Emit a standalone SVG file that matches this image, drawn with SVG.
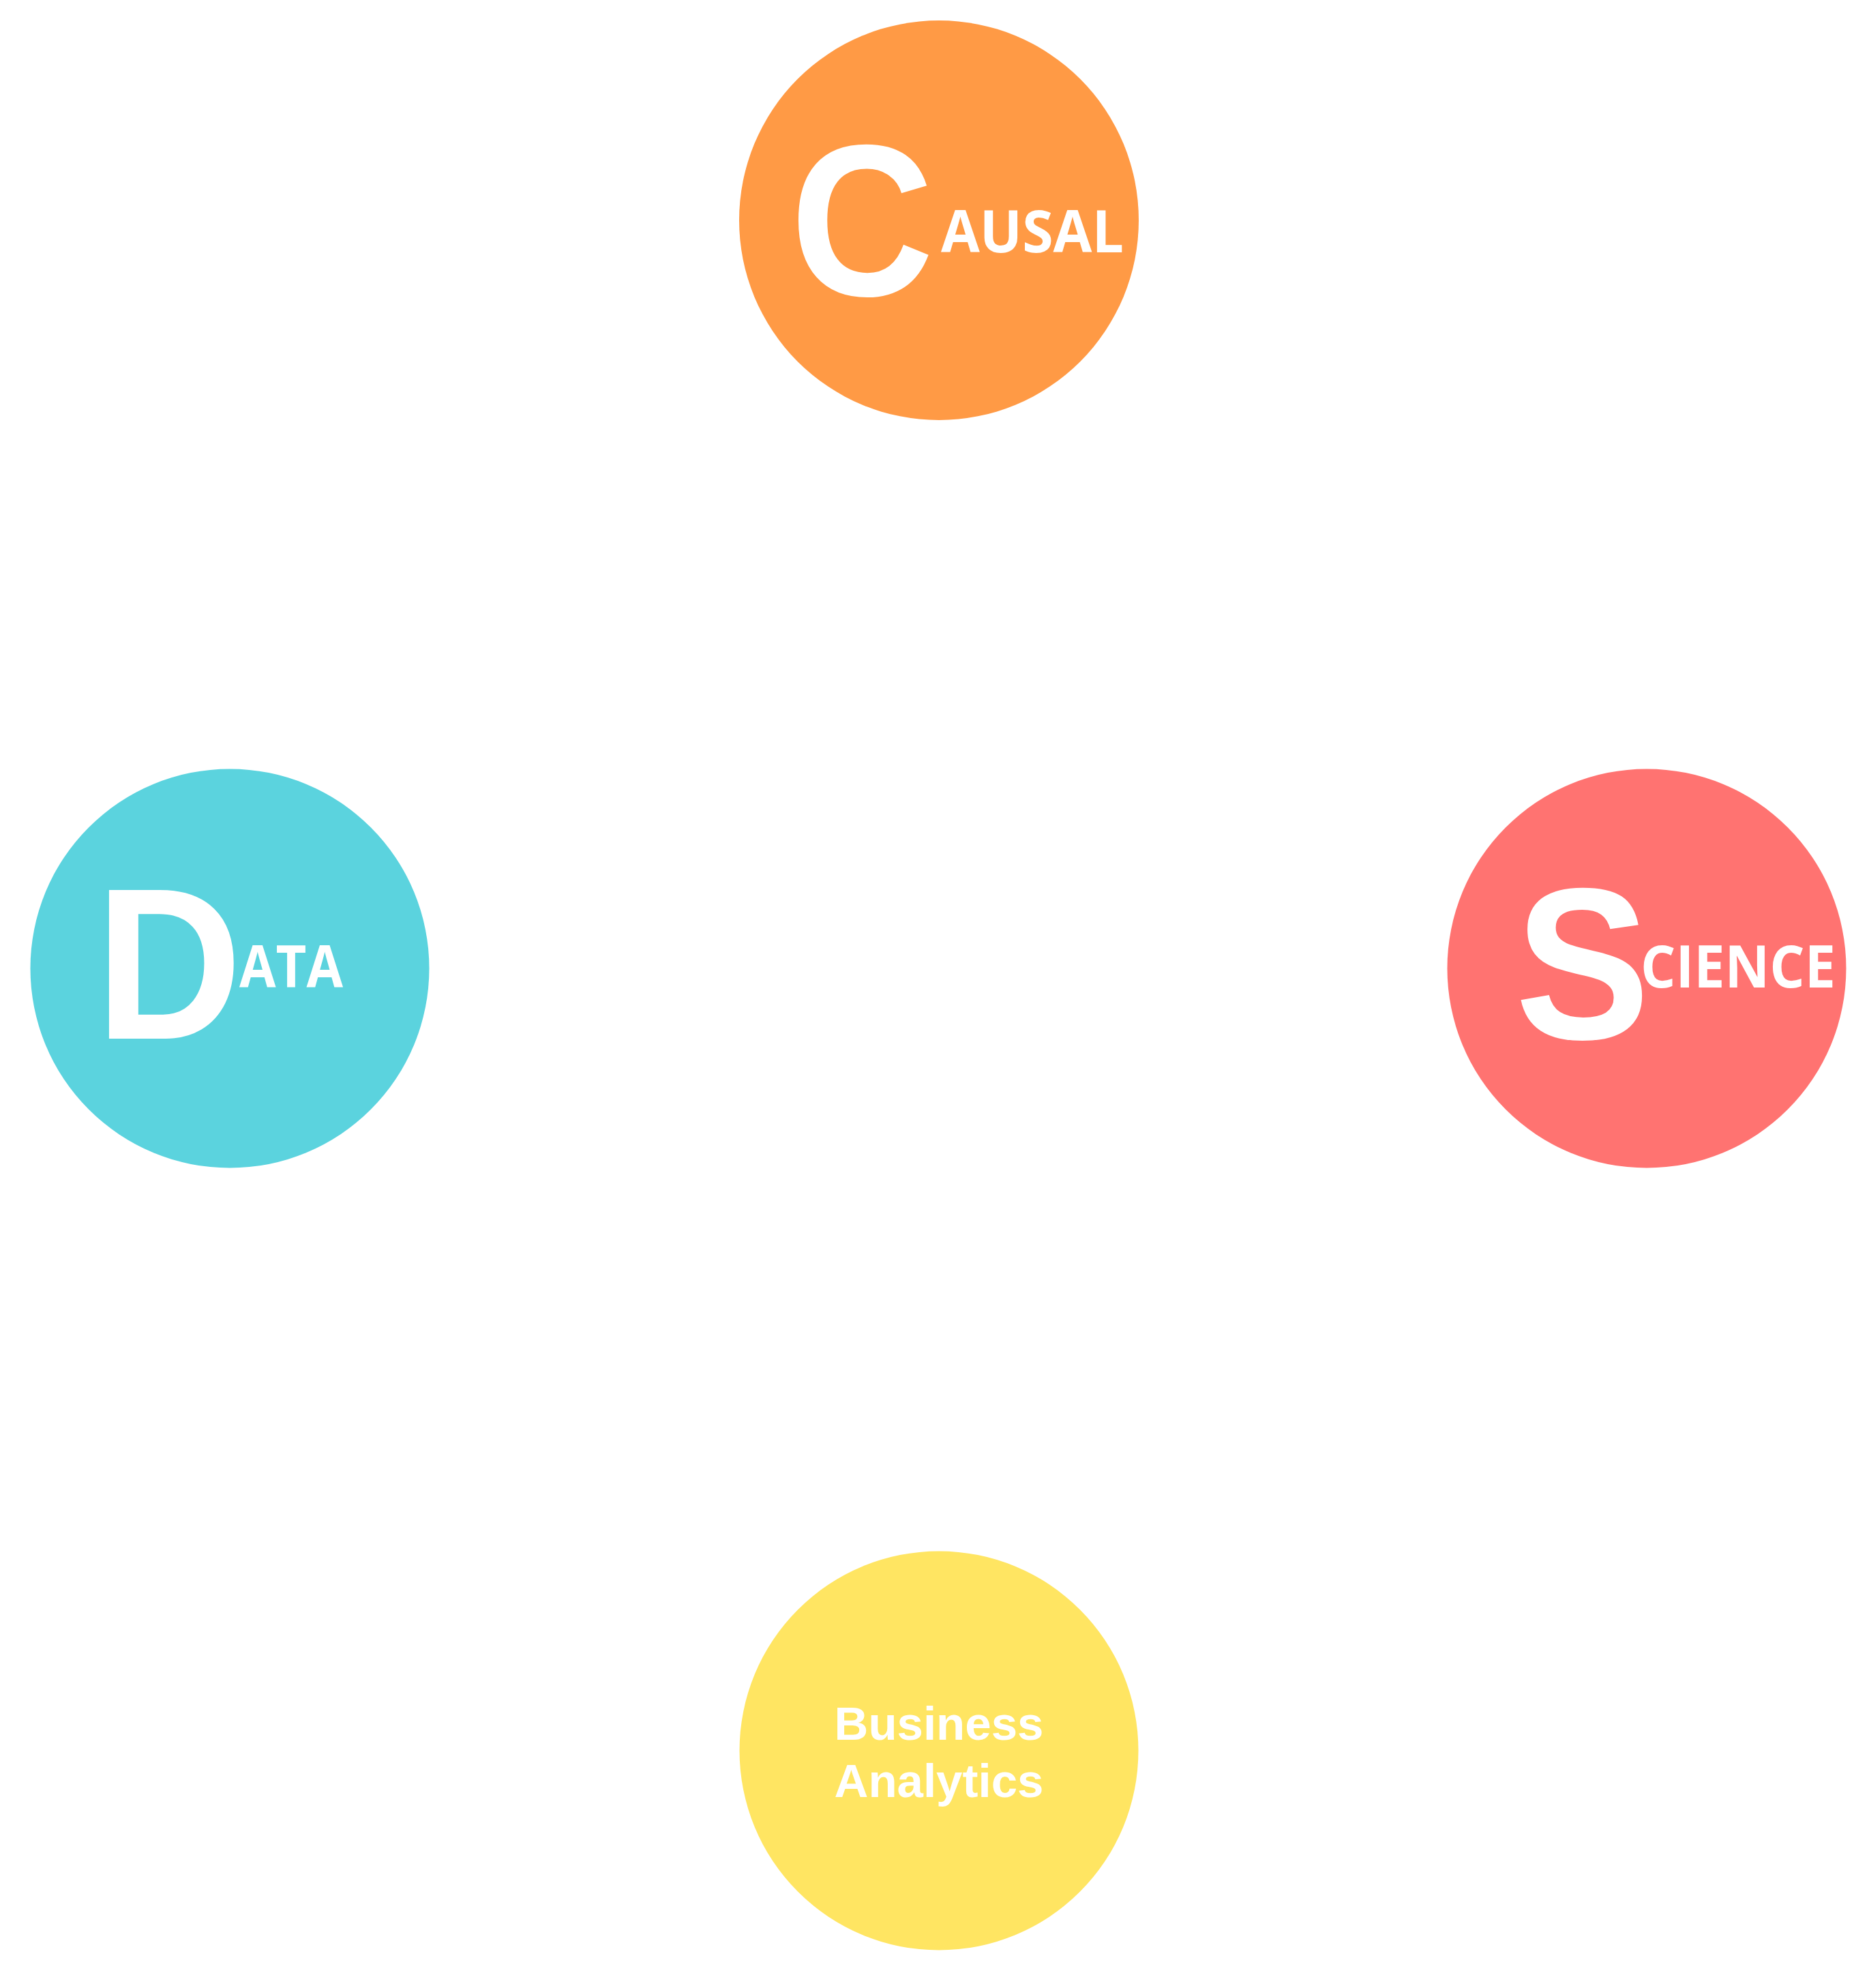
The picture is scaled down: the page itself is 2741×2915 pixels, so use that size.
<svg xmlns="http://www.w3.org/2000/svg" width="2741" height="2915" viewBox="0 0 2741 2915">
<style>
.big{font-family:"Liberation Sans",Arial,sans-serif;font-weight:700;font-size:317px;fill:#fff}
.small{font-family:"Open Sans","Noto Sans",sans-serif;font-weight:700;font-size:86px;fill:#fff}
.ba{font-family:"Liberation Sans",Arial,sans-serif;font-weight:700;font-size:69px;fill:#fff;text-anchor:middle}
</style>
<rect width="2741" height="2915" fill="#fff"/>
<g id="connectors"></g>
<g id="causal">
<circle cx="1377" cy="323" r="293" fill="#FF9A45"/>
<text class="big" transform="translate(1159,433) scale(0.92,1)">C</text>
<text class="small" x="1380" y="370" textLength="268" lengthAdjust="spacingAndGlyphs">AUSAL</text>
</g>
<g id="data">
<circle cx="337" cy="1420" r="292.5" fill="#5BD3DE"/>
<text class="big" transform="translate(140,1523) scale(0.94,1)">D</text>
<text class="small" x="351" y="1448" textLength="152" lengthAdjust="spacingAndGlyphs">ATA</text>
</g>
<g id="science">
<circle cx="2415" cy="1420" r="292.5" fill="#FF7371"/>
<text class="big" transform="translate(2222,1523) scale(0.935,1)">S</text>
<text class="small" x="2406" y="1448" textLength="286" lengthAdjust="spacingAndGlyphs">CIENCE</text>
</g>
<g id="business-analytics">
<circle cx="1377" cy="2567" r="292.5" fill="#FFE562"/>
<text class="ba" x="1377" y="2551">Business</text>
<text class="ba" x="1377" y="2635">Analytics</text>
</g>
</svg>
